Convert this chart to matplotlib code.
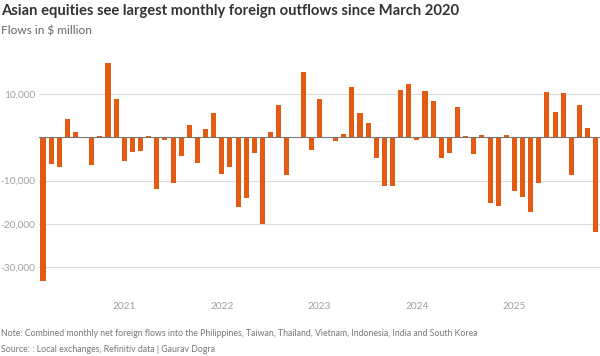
import matplotlib
matplotlib.use("Agg")
import matplotlib.pyplot as plt
import numpy as np

# monthly net foreign flows, $ million, Mar 2020 .. Nov 2025
flows = [
    -33100, -6200, -6900, 4300, 1100, 0, -6500, 230, 17200, 8900,
    -5500, -3500, -3200, 230, -12000, -700, -10600, -4400, 2800, -6000,
    1900, 5700, -8400, -6900, -16200, -14100, -3700, -20100, 1100, 7400,
    -8800, 0, 15000, -3000, 8800, 0, -800, 700, 11500, 5600,
    3300, -4800, -11200, -11200, 11000, 12300, -700, 10700, 8400, -4900,
    -3700, 6900, 300, -3800, 600, -15300, -15800, 600, -12500, -13700,
    -17300, -10600, 10500, 5800, 10200, -8800, 7500, 2200, -22000,
]
year_labels = ["2021", "2022", "2023", "2024", "2025"]
year_pos = [10, 22, 34, 46, 58]  # January of each year
y_ticks = [-30000, -20000, -10000, 10000]
y_labels = ["-30,000", "-20,000", "-10,000", "10,000"]

title = "Asian equities see largest monthly foreign outflows since March 2020"
subtitle = "Flows in $ million"
note = ("Note: Combined monthly net foreign flows into the Philippines, Taiwan, "
        "Thailand, Vietnam, Indonesia, India and South Korea")
source = "Source: : Local exchanges, Refinitiv data | Gaurav Dogra"

plt.rcParams['font.family'] = ['Lato', 'DejaVu Sans']

W, H = 600, 356
fig = plt.figure(figsize=(W / 100, H / 100), dpi=100)
ax = fig.add_axes([39.5 / W, (H - 285) / H, (W - 39.5) / W, 235 / H])

x = np.arange(len(flows))
ax.bar(x, flows, width=0.62, color='#e35b12', zorder=3)

ax.set_xlim(-0.43, 68.53)
ax.set_ylim(-34134, 20139)

for v in y_ticks:
    ax.axhline(v, color='#dddddd', lw=0.8, zorder=1)
ax.axhline(0, color='#777777', lw=0.8, zorder=4)

ax.set_yticks(y_ticks)
ax.set_yticklabels(y_labels)
ax.set_xticks(year_pos)
ax.set_xticklabels(year_labels)
ax.tick_params(axis='both', length=0, labelsize=7.3, labelcolor='#a0a0a0')
ax.tick_params(axis='y', pad=3.2)
ax.tick_params(axis='x', pad=12.3)

for s in ax.spines.values():
    s.set_visible(False)

fig.text(1 / W, 1 - 14.5 / H, title, fontsize=10.6, fontweight='bold',
         color='#333333', va='baseline')
fig.text(1 / W, 1 - 34.5 / H, subtitle, fontsize=8.6,
         color='#666666', va='baseline')
fig.text(1 / W, 1 - 336.5 / H, note, fontsize=6.3,
         color='#777777', va='baseline')
fig.text(1 / W, 1 - 352 / H, source, fontsize=6.3,
         color='#777777', va='baseline')

fig.savefig("out.png", dpi=100)
